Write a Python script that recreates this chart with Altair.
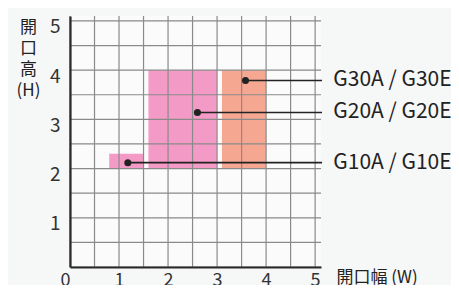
import altair as alt
import pandas as pd

# ---- data ----
models = ["G10A / G10E", "G20A / G20E", "G30A / G30E"]
w_min = [0.8, 1.6, 3.1]
w_max = [1.5, 3.0, 4.0]
h_min = [2.0, 2.0, 2.0]
h_max = [2.3, 4.0, 4.0]
fills = ["#f49ac6", "#f49ac6", "#f5a792"]
dot_w = [1.18, 2.6, 3.58]
dot_h = [2.12, 3.14, 3.79]
grid_vals = [0, 0.5, 1, 1.5, 2, 2.5, 3, 3.5, 4, 4.5, 5]
x_labels = [0, 1, 2, 3, 4, 5]
y_labels = [1, 2, 3, 4, 5]

X_MAX = 5.12
Y_MAX = 5.1
LEADER_END = 5.14
LABEL_X = 5.37

df = pd.DataFrame({
    "model": models, "w0": w_min, "w1": w_max, "h0": h_min, "h1": h_max,
    "fill": fills, "dw": dot_w, "dh": dot_h,
})
df["lx"] = LEADER_END
df["tx"] = LABEL_X

grid_df = pd.DataFrame({"g": grid_vals})
grid_df["lo"] = 0.0
grid_df["xhi"] = X_MAX
grid_df["yhi"] = Y_MAX

FONT = "Noto Sans CJK JP"

xscale = alt.Scale(domain=[0, X_MAX], nice=False, zero=False)
yscale = alt.Scale(domain=[0, Y_MAX], nice=False, zero=False)

xaxis = alt.Axis(
    values=x_labels, tickCount=len(x_labels), grid=False, ticks=False, zindex=1,
    format="d", labelOverlap=False,
    labelAlign={"condition": {"test": "datum.value == 0", "value": "right"}, "value": "center"},
    labelBaseline="alphabetic",
    labelFontSize=18, labelColor="#333333", labelFont=FONT, labelPadding=18,
    labelFlush=False,
    title="開口幅 (W)", titleFont=FONT, titleFontSize=17, titleFontWeight="normal",
    titleColor="#222222", titleAlign="left", titleX=266, titleY=15,
    titleBaseline="alphabetic", titleAnchor="start",
)
yaxis = alt.Axis(
    values=y_labels, tickCount=len(y_labels), grid=False, ticks=False, zindex=1,
    format="d", labelOverlap=False,
    labelFontSize=19, labelColor="#333333", labelFont=FONT, labelPadding=10,
    labelOffset=6, labelFlush=False,
    title=["開", "口", "高", "(H)"], titleFont=FONT, titleFontSize=17,
    titleFontWeight="normal", titleColor="#222222", titleAngle=0,
    titleAlign="center", titleBaseline="top", titleX=-42, titleY=3,
    titleLineHeight=21,
)

base = alt.Chart(df)
gbase = alt.Chart(grid_df)

rects = base.mark_rect().encode(
    x=alt.X("w0:Q", scale=xscale, axis=xaxis),
    x2="w1",
    y=alt.Y("h0:Q", scale=yscale, axis=yaxis),
    y2="h1",
    fill=alt.Fill("fill:N", scale=None),
)

vgrid = gbase.mark_rule(color="#8a8a8a", strokeWidth=1.2).encode(
    x=alt.X("g:Q", scale=xscale, axis=xaxis),
    y=alt.Y("lo:Q", scale=yscale, axis=yaxis), y2="yhi",
)
hgrid = gbase.mark_rule(color="#8a8a8a", strokeWidth=1.2).encode(
    y=alt.Y("g:Q", scale=yscale, axis=yaxis),
    x=alt.X("lo:Q", scale=xscale, axis=xaxis), x2="xhi",
)

leaders = base.mark_rule(color="#222222", strokeWidth=1.6).encode(
    x=alt.X("dw:Q", scale=xscale, axis=xaxis), x2="lx",
    y=alt.Y("dh:Q", scale=yscale, axis=yaxis),
)

dots = base.mark_point(filled=True, color="#222222", size=50, opacity=1).encode(
    x=alt.X("dw:Q", scale=xscale, axis=xaxis),
    y=alt.Y("dh:Q", scale=yscale, axis=yaxis),
)

labels = base.mark_text(
    align="left", baseline="middle", font=FONT, fontSize=21, color="#222222",
).encode(
    x=alt.X("tx:Q", scale=xscale, axis=xaxis),
    y=alt.Y("dh:Q", scale=yscale, axis=yaxis),
    text="model:N",
)

chart = alt.layer(rects, vgrid, hgrid, leaders, dots, labels).properties(
    width=251, height=251,
    autosize=alt.AutoSizeParams(type="none"),
    padding={"left": 62, "top": 8, "right": 130, "bottom": 18},
    background="#f6f7f7",
).configure_axis(
    domainColor="#2a2a2a", domainWidth=2.2,
).configure_view(stroke=None, fill="#fbfbfb")

chart.save("out.html", embed_options={"renderer": "svg", "actions": False})
